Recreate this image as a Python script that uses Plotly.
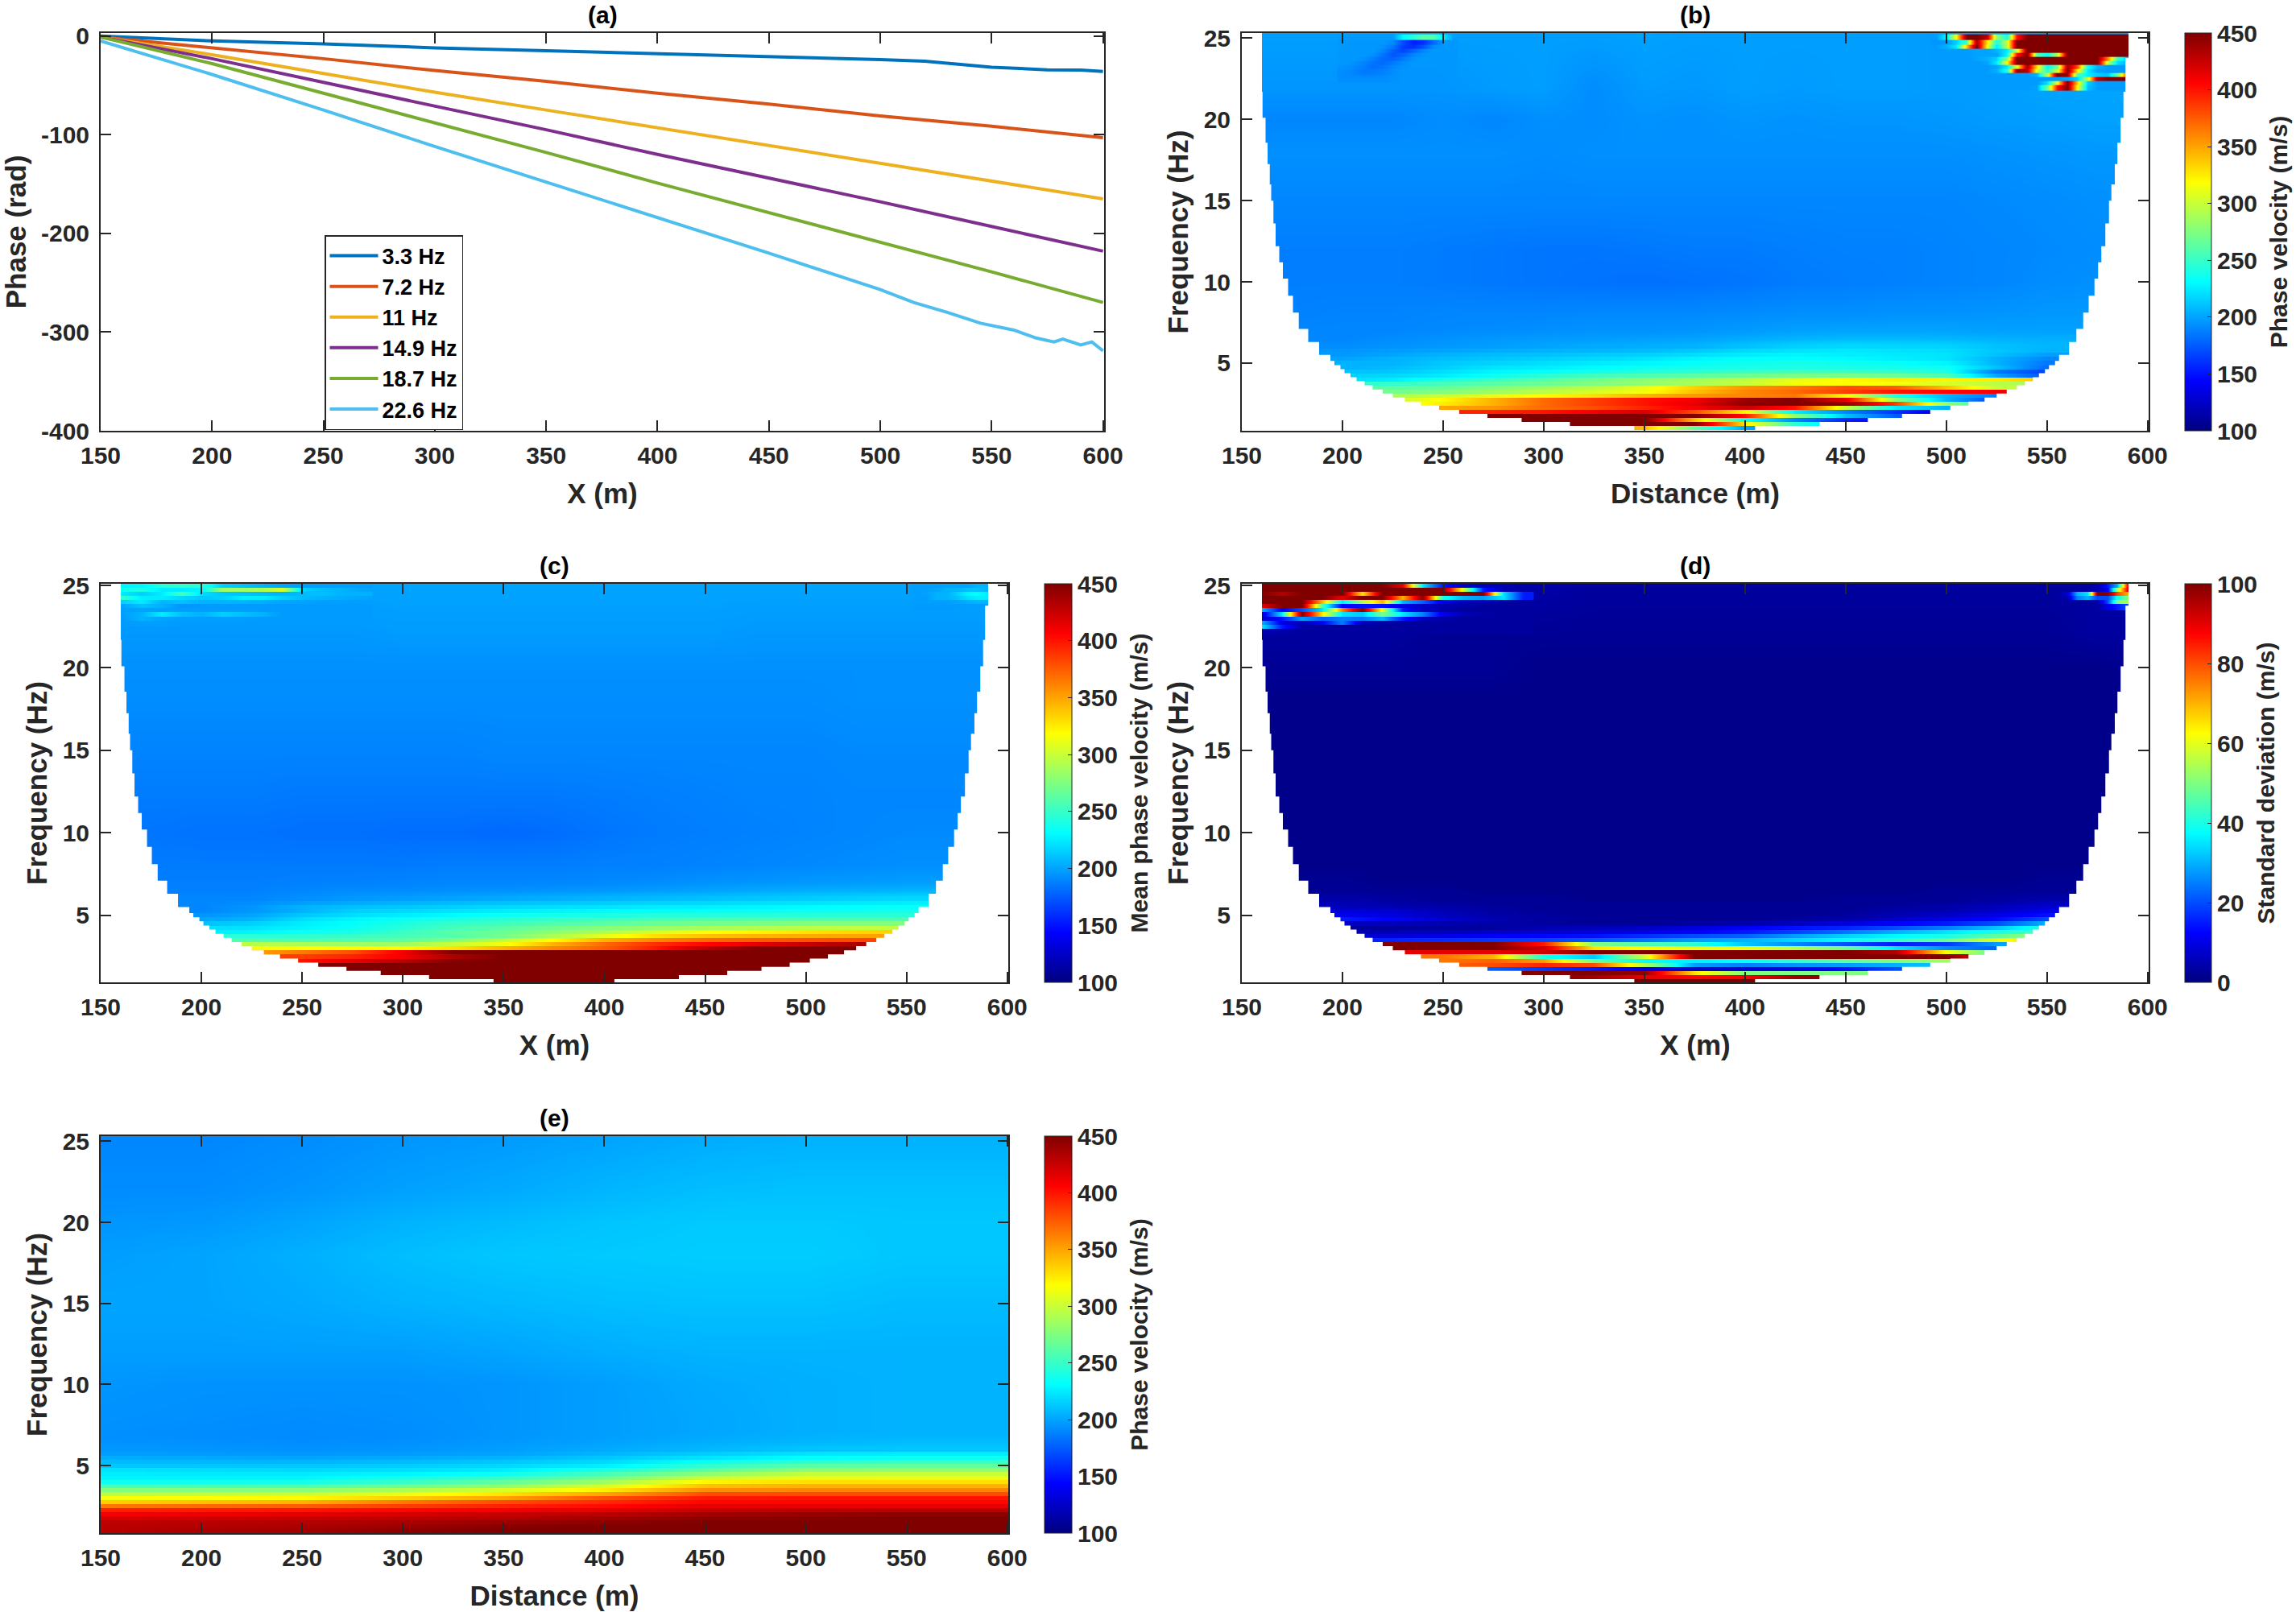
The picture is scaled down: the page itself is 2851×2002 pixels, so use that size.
import numpy as np
import plotly.graph_objects as go

W, H = 2851, 2002

# panel (a) phase curves
phase_labels = ["3.3 Hz", "7.2 Hz", "11 Hz", "14.9 Hz", "18.7 Hz", "22.6 Hz"]
phase_colors = ["#0072BD", "#D95319", "#EDB120", "#7E2F8E", "#77AC30", "#4DBEEE"]
phase_ticks = [-400, -300, -200, -100, 0]
phase_ticktext = ["-400", "-300", "-200", "-100", "0"]
phase_x = [
    [150, 200, 250, 300, 350, 400, 450, 500, 520, 540, 550, 575, 590, 600],
    [150, 200, 250, 300, 350, 400, 450, 500, 550, 600],
    [150, 200, 250, 300, 350, 400, 450, 500, 550, 600],
    [150, 200, 250, 300, 350, 400, 450, 500, 550, 600],
    [150, 200, 250, 300, 350, 400, 450, 500, 550, 600],
    [150, 200, 250, 300, 350, 400, 450, 500, 515, 530, 545, 560, 570, 578, 582, 590, 595, 600],
]
phase_y = [
    [0, -5, -8, -12, -15, -18, -20.5, -24, -25.6, -30, -31.6, -34.3, -34.6, -36],
    [-1, -12, -23, -35, -46, -58, -69, -81, -91.5, -103],
    [-1, -19, -38, -57, -75, -93, -111, -129, -147, -165],
    [-1, -23, -47, -71, -95, -120, -144, -168, -193, -218],
    [-1, -28, -58, -88, -118, -149, -179, -209, -239, -270],
    [-5, -39, -75, -112, -148, -184, -220, -257, -270, -280, -291, -298, -306, -310, -307, -313, -310, -319],
]

# shared grid of the velocity panels
dist = [150, 175, 200, 225, 250, 275, 300, 325, 350, 375, 400, 425, 450, 475, 500, 525, 550, 575, 600]
freq = [1.0, 1.25, 1.5, 1.75, 2.0, 2.25, 2.5, 2.75, 3.0, 3.25, 3.5, 3.75, 4.0, 4.25, 4.5, 4.75, 5.0, 5.25, 5.5, 5.75, 6.0,
        6.5, 7, 8, 10, 12, 15, 18, 20, 22, 25]

vel_b = [
    [370, 370, 370, 370, 370, 370, 370, 370, 340, 265, 200, 190, 190, 190, 190, 190, 190, 190, 190],
    [450, 450, 450, 450, 450, 450, 450, 450, 450, 450, 325, 245, 215, 215, 215, 215, 215, 215, 215],
    [450, 450, 450, 450, 450, 450, 450, 450, 450, 340, 235, 190, 155, 140, 140, 140, 140, 140, 140],
    [450, 450, 450, 450, 450, 450, 450, 450, 450, 450, 400, 280, 210, 175, 170, 170, 170, 170, 170],
    [395, 395, 395, 395, 395, 395, 400, 410, 420, 380, 320, 225, 190, 160, 130, 130, 130, 130, 130],
    [350, 350, 350, 350, 350, 355, 370, 380, 395, 410, 425, 400, 300, 225, 205, 200, 200, 200, 200],
    [310, 310, 310, 310, 325, 345, 370, 385, 400, 415, 445, 450, 445, 385, 280, 240, 240, 240, 240],
    [300, 300, 300, 300, 320, 345, 370, 385, 400, 410, 440, 450, 415, 280, 205, 165, 165, 165, 165],
    [290, 290, 290, 290, 300, 310, 320, 330, 345, 355, 360, 365, 320, 240, 205, 185, 185, 185, 185],
    [270, 270, 270, 270, 275, 285, 295, 305, 315, 340, 360, 370, 385, 400, 405, 410, 410, 410, 410],
    [260, 260, 260, 262, 265, 275, 285, 295, 312, 335, 355, 365, 380, 375, 340, 300, 290, 290, 290],
    [245, 245, 245, 248, 255, 262, 268, 275, 282, 290, 300, 315, 320, 315, 305, 295, 285, 285, 285],
    [220, 220, 220, 225, 240, 250, 260, 270, 278, 285, 295, 310, 320, 325, 322, 325, 340, 340, 340],
    [215, 215, 215, 218, 225, 235, 245, 253, 258, 263, 268, 272, 273, 268, 258, 200, 170, 160, 160],
    [210, 210, 210, 212, 220, 228, 232, 238, 243, 247, 252, 255, 253, 250, 240, 185, 165, 165, 165],
    [205, 205, 205, 208, 215, 222, 225, 230, 235, 238, 240, 240, 240, 238, 235, 210, 180, 180, 180],
    [200, 200, 205, 205, 212, 216, 220, 224, 228, 232, 235, 238, 235, 232, 228, 205, 185, 185, 185],
    [200, 200, 200, 205, 209, 212, 215, 218, 222, 228, 232, 232, 230, 226, 222, 205, 190, 190, 190],
    [196, 196, 196, 200, 205, 208, 210, 213, 215, 220, 225, 228, 226, 224, 222, 210, 198, 198, 198],
    [195, 195, 195, 198, 200, 203, 205, 206, 208, 212, 218, 222, 224, 222, 220, 212, 205, 205, 205],
    [192, 192, 192, 194, 196, 198, 200, 202, 203, 205, 210, 215, 218, 217, 216, 210, 206, 206, 206],
    [190, 190, 190, 192, 194, 196, 197, 198, 199, 200, 203, 206, 208, 208, 207, 205, 204, 204, 204],
    [190, 190, 190, 190, 191, 192, 193, 194, 194, 195, 197, 199, 200, 200, 200, 199, 199, 199, 199],
    [188, 188, 189, 189, 190, 190, 190, 191, 191, 191, 192, 193, 193, 194, 194, 195, 196, 196, 196],
    [187, 187, 187, 187, 186, 185, 184, 183, 182, 183, 184, 186, 187, 188, 189, 190, 192, 193, 193],
    [187, 187, 187, 187, 186, 185, 184, 184, 185, 186, 186, 187, 188, 188, 189, 190, 191, 192, 192],
    [190, 190, 190, 190, 190, 190, 190, 190, 190, 190, 190, 190, 190, 190, 190, 191, 192, 193, 193],
    [193, 193, 193, 193, 193, 193, 192, 193, 193, 193, 193, 193, 193, 193, 193, 194, 195, 196, 196],
    [190, 190, 190, 190, 192, 190, 193, 192, 194, 193, 195, 194, 195, 195, 196, 197, 198, 199, 199],
    [195, 195, 195, 195, 195, 197, 198, 192, 197, 196, 198, 197, 198, 198, 197, 198, 200, 200, 200],
    [198, 198, 198, 198, 198, 198, 198, 198, 199, 198, 198, 198, 198, 198, 197, 197, 197, 197, 197],
]

vel_c = [
    [450] * 19,
    [450] * 19,
    [450] * 19,
    [450] * 19,
    [450] * 19,
    [400, 400, 400, 400, 400, 415, 430, 448, 450, 450, 450, 450, 450, 450, 450, 450, 450, 450, 450],
    [385, 385, 385, 385, 385, 395, 410, 435, 450, 450, 450, 450, 450, 450, 450, 450, 450, 450, 450],
    [350, 350, 350, 350, 365, 380, 410, 450, 450, 450, 450, 450, 450, 450, 450, 450, 450, 450, 450],
    [315, 315, 315, 315, 318, 320, 320, 328, 345, 360, 375, 398, 430, 450, 450, 450, 450, 450, 450],
    [295, 295, 295, 295, 290, 285, 285, 300, 315, 345, 370, 390, 405, 415, 425, 435, 435, 435, 435],
    [258, 258, 258, 258, 258, 260, 263, 275, 295, 320, 345, 360, 370, 375, 378, 382, 385, 385, 385],
    [245, 245, 245, 245, 246, 250, 255, 260, 270, 290, 310, 330, 340, 345, 348, 350, 352, 352, 352],
    [225, 225, 225, 228, 235, 240, 250, 262, 268, 280, 290, 305, 318, 322, 328, 332, 335, 335, 335],
    [220, 220, 220, 222, 228, 235, 245, 255, 262, 270, 277, 283, 288, 292, 295, 298, 298, 298, 298],
    [210, 210, 210, 215, 225, 232, 240, 248, 252, 258, 262, 267, 270, 272, 275, 275, 275, 275, 275],
    [200, 200, 200, 205, 220, 228, 234, 240, 244, 248, 252, 255, 258, 258, 258, 258, 258, 258, 258],
    [195, 195, 195, 200, 212, 220, 225, 230, 235, 238, 240, 243, 243, 244, 244, 245, 245, 245, 245],
    [190, 190, 190, 195, 205, 215, 218, 222, 226, 228, 230, 232, 233, 234, 235, 236, 238, 238, 238],
    [190, 190, 190, 195, 205, 210, 212, 215, 218, 220, 222, 225, 226, 228, 230, 232, 233, 233, 233],
    [190, 190, 190, 192, 198, 202, 205, 208, 210, 212, 214, 216, 218, 220, 222, 224, 226, 226, 226],
    [190, 190, 190, 190, 193, 196, 198, 200, 202, 204, 206, 208, 210, 212, 214, 216, 218, 218, 218],
    [188, 188, 188, 188, 190, 192, 192, 193, 194, 195, 196, 198, 200, 202, 204, 205, 206, 206, 206],
    [187, 187, 187, 187, 188, 188, 189, 190, 190, 190, 191, 192, 194, 195, 196, 197, 198, 198, 198],
    [186, 186, 186, 186, 186, 186, 186, 187, 187, 187, 188, 188, 189, 190, 191, 192, 193, 193, 193],
    [184, 184, 183, 183, 182, 182, 181, 181, 180, 181, 184, 186, 187, 188, 189, 190, 191, 191, 191],
    [186, 186, 186, 186, 185, 185, 185, 185, 185, 185, 186, 187, 188, 189, 189, 190, 190, 190, 190],
    [189, 189, 189, 189, 189, 189, 189, 189, 190, 190, 190, 190, 190, 190, 190, 191, 191, 191, 191],
    [192, 192, 192, 192, 192, 192, 192, 192, 192, 192, 192, 192, 192, 192, 192, 193, 193, 193, 193],
    [193, 193, 193, 193, 193, 193, 193, 193, 193, 193, 193, 193, 193, 193, 193, 193, 193, 193, 193],
    [196, 196, 196, 196, 196, 196, 197, 197, 197, 197, 197, 197, 197, 196, 196, 196, 196, 196, 196],
    [200, 200, 200, 200, 200, 200, 200, 200, 200, 200, 200, 200, 200, 200, 200, 200, 200, 200, 200],
]

std_d = [
    [100] * 19,
    [100, 100, 100, 100, 100, 100, 100, 97, 90, 87, 88, 97, 100, 100, 100, 100, 100, 100, 100],
    [100, 100, 100, 100, 100, 100, 100, 100, 98, 65, 50, 50, 50, 50, 52, 52, 52, 52, 52],
    [22, 22, 22, 22, 22, 22, 18, 15, 10, 8, 8, 10, 14, 20, 22, 22, 22, 22, 22],
    [78, 78, 78, 78, 78, 80, 84, 80, 55, 28, 25, 27, 28, 30, 32, 36, 36, 36, 36],
    [76, 76, 76, 76, 76, 78, 72, 48, 38, 36, 38, 42, 47, 50, 53, 56, 56, 56, 56],
    [76, 76, 76, 76, 76, 70, 40, 32, 58, 100, 100, 100, 100, 100, 100, 85, 75, 75, 75],
    [90, 90, 90, 90, 90, 90, 92, 100, 100, 100, 100, 100, 100, 95, 62, 45, 45, 45, 45],
    [100, 100, 100, 100, 100, 100, 92, 65, 62, 60, 60, 55, 48, 35, 26, 22, 22, 22, 22],
    [100, 100, 100, 100, 100, 100, 85, 50, 45, 42, 32, 26, 20, 15, 18, 28, 32, 32, 32],
    [16, 16, 16, 16, 17, 18, 19, 21, 24, 28, 30, 34, 38, 42, 48, 60, 70, 70, 70],
    [8, 8, 8, 9, 10, 12, 13, 14, 17, 20, 22, 28, 33, 37, 40, 47, 54, 54, 54],
    [5, 5, 5, 5, 6, 7, 8, 9, 10, 12, 15, 19, 24, 30, 35, 40, 45, 45, 45],
    [3, 3, 3, 3, 3, 3, 5, 6, 7, 9, 12, 14, 16, 20, 25, 32, 42, 42, 42],
    [7, 7, 7, 6, 5, 4, 3, 2, 2, 3, 4, 6, 9, 12, 15, 20, 30, 30, 30],
    [15, 15, 15, 12, 8, 5, 3, 2, 2, 2, 2, 3, 4, 7, 10, 13, 20, 20, 20],
    [11, 11, 11, 9, 6, 4, 3, 2, 2, 2, 2, 2, 3, 5, 7, 10, 14, 14, 14],
    [9, 9, 9, 8, 5, 3, 2, 2, 2, 2, 2, 2, 2, 4, 5, 7, 11, 11, 11],
    [7, 7, 6, 5, 4, 3, 2, 2, 2, 2, 2, 2, 2, 3, 4, 6, 8, 8, 8],
    [5, 5, 5, 4, 3, 2, 2, 2, 2, 2, 2, 2, 2, 2, 3, 4, 6, 6, 6],
    [4, 4, 4, 3, 2, 2, 2, 1, 1, 1, 1, 1, 2, 2, 2, 3, 4, 4, 4],
    [2, 2, 2, 2, 2, 1, 1, 1, 1, 1, 1, 1, 1, 1, 2, 2, 2, 2, 2],
    [2, 2, 2, 1, 1, 1, 1, 1, 1, 1, 1, 1, 1, 1, 1, 1, 2, 2, 2],
    [1, 1, 1, 1, 1, 1, 1, 1, 1, 1, 1, 1, 1, 1, 1, 1, 1, 1, 1],
    [1, 1, 1, 1, 1, 1, 1, 1, 1, 1, 1, 1, 1, 1, 1, 1, 1, 1, 1],
    [1, 1, 1, 1, 1, 1, 1, 1, 1, 1, 1, 1, 1, 1, 1, 1, 1, 1, 1],
    [1, 1, 1, 1, 1, 1, 1, 1, 1, 1, 1, 1, 1, 1, 1, 1, 1, 1, 1],
    [1, 1, 1, 1, 1, 1, 1, 1, 1, 1, 1, 1, 1, 1, 1, 1, 1, 1, 1],
    [2, 2, 2, 2, 2, 2, 1, 1, 1, 1, 1, 1, 1, 1, 1, 1, 1, 1, 2],
    [3, 3, 3, 3, 2, 2, 2, 2, 2, 2, 2, 2, 2, 2, 2, 2, 2, 3, 3],
    [4, 4, 4, 4, 4, 4, 4, 3, 3, 3, 3, 3, 3, 3, 3, 3, 3, 4, 4],
]

# panel (e) has its own coarser columns
dist_e = [150, 200, 250, 300, 350, 400, 450, 500, 550, 600]
vel_e = [
    [430, 435, 438, 445, 450, 450, 450, 450, 450, 450],
    [430, 432, 435, 440, 447, 450, 450, 450, 450, 450],
    [428, 430, 432, 435, 440, 445, 450, 450, 450, 450],
    [420, 422, 425, 428, 432, 438, 445, 447, 450, 450],
    [410, 412, 415, 420, 425, 430, 438, 442, 445, 445],
    [395, 398, 400, 405, 410, 415, 425, 430, 430, 430],
    [365, 370, 375, 385, 395, 403, 415, 415, 415, 415],
    [335, 340, 345, 365, 380, 392, 405, 405, 405, 405],
    [315, 318, 320, 335, 350, 378, 398, 400, 400, 400],
    [295, 298, 300, 312, 328, 350, 380, 380, 380, 380],
    [275, 276, 278, 290, 305, 325, 358, 360, 360, 360],
    [255, 256, 258, 268, 280, 305, 340, 345, 345, 345],
    [235, 236, 238, 250, 265, 285, 322, 330, 330, 330],
    [228, 228, 228, 238, 250, 268, 300, 312, 312, 312],
    [225, 224, 224, 228, 235, 255, 280, 298, 300, 300],
    [222, 220, 218, 220, 225, 240, 262, 278, 280, 280],
    [212, 212, 212, 214, 218, 226, 248, 262, 265, 265],
    [208, 207, 206, 208, 212, 218, 234, 246, 250, 250],
    [203, 202, 200, 202, 205, 212, 222, 232, 235, 235],
    [198, 197, 196, 197, 200, 206, 214, 222, 225, 225],
    [196, 195, 194, 195, 198, 202, 207, 211, 212, 212],
    [194, 193, 192, 193, 196, 199, 203, 206, 208, 208],
    [193, 192, 191, 192, 195, 198, 201, 204, 205, 205],
    [194, 193, 192, 193, 195, 198, 201, 204, 205, 205],
    [195, 194, 194, 194, 195, 198, 202, 204, 205, 205],
    [198, 198, 198, 198, 200, 203, 205, 205, 205, 205],
    [200, 200, 202, 205, 207, 209, 210, 210, 208, 208],
    [198, 200, 204, 209, 212, 213, 214, 214, 212, 212],
    [195, 196, 200, 205, 208, 211, 213, 213, 212, 212],
    [192, 192, 195, 199, 202, 206, 209, 210, 210, 210],
    [190, 190, 192, 195, 197, 200, 203, 205, 205, 205],
]

# noisy corners, drawn over the base grids
patch_freq = [22.0, 22.25, 22.5, 22.75, 23.0, 23.25, 23.5, 23.75, 24.0, 24.25, 24.5, 24.75, 25.0]
patch_b_x = [495, 500, 505, 510, 515, 520, 525, 530, 535, 540, 545, 550, 555, 560, 565, 570, 575, 580, 585, 590]
patch_b = [
    [197, 197, 197, 197, 197, 197, 197, 197, 197, 197, 200, 270, 400, 450, 320, 210, 197, 197, 197, 197],
    [197, 197, 197, 197, 197, 197, 197, 197, 197, 197, 197, 220, 310, 450, 340, 215, 197, 197, 197, 197],
    [197, 197, 197, 197, 197, 197, 197, 197, 197, 197, 197, 197, 197, 200, 215, 300, 430, 450, 450, 450],
    [197, 197, 197, 197, 197, 197, 197, 197, 197, 197, 205, 300, 450, 440, 260, 225, 215, 210, 270, 390],
    [197, 197, 197, 197, 197, 197, 205, 240, 440, 430, 310, 245, 300, 450, 330, 225, 200, 197, 197, 197],
    [197, 197, 197, 197, 197, 197, 200, 225, 310, 440, 330, 230, 270, 440, 380, 235, 205, 197, 197, 197],
    [197, 197, 197, 197, 197, 200, 225, 320, 450, 450, 450, 450, 450, 450, 450, 450, 450, 300, 220, 205],
    [197, 197, 197, 197, 200, 205, 215, 280, 450, 450, 450, 450, 450, 450, 450, 450, 450, 360, 250, 210],
    [197, 197, 197, 197, 200, 200, 200, 230, 400, 450, 260, 235, 290, 450, 450, 450, 450, 450, 450, 450],
    [197, 197, 197, 197, 200, 200, 205, 225, 300, 450, 450, 450, 450, 450, 450, 450, 450, 450, 450, 450],
    [197, 205, 225, 340, 450, 320, 225, 300, 450, 450, 450, 450, 450, 450, 450, 450, 450, 450, 450, 450],
    [195, 197, 215, 260, 440, 330, 240, 300, 450, 450, 450, 450, 450, 450, 450, 450, 450, 450, 450, 450],
    [197, 230, 320, 450, 450, 430, 280, 240, 400, 450, 450, 450, 450, 450, 450, 450, 450, 450, 450, 450],
]
# dark streak at the top of panel (b)
patch_b2_freq = [22.5, 23.0, 23.25, 23.5, 23.75, 24.0, 24.25, 24.5, 24.75, 25.0]
patch_b2_x = [200, 205, 210, 215, 220, 225, 230, 235, 240, 245, 250, 255]
patch_b2 = [
    [192, 192, 192, 192, 192, 194, 195, 195, 195, 195, 195, 196],
    [192, 190, 186, 186, 188, 192, 195, 195, 195, 195, 196, 196],
    [194, 192, 188, 182, 184, 190, 194, 196, 196, 196, 196, 196],
    [196, 194, 190, 184, 180, 186, 192, 196, 196, 196, 196, 196],
    [196, 196, 194, 188, 180, 178, 186, 194, 196, 196, 196, 196],
    [196, 196, 196, 194, 184, 174, 178, 190, 195, 196, 196, 196],
    [196, 196, 196, 196, 190, 176, 168, 178, 190, 196, 196, 196],
    [196, 196, 196, 196, 194, 185, 165, 160, 172, 192, 196, 196],
    [196, 196, 196, 196, 196, 192, 170, 155, 160, 180, 196, 196],
    [197, 197, 197, 197, 197, 197, 230, 245, 260, 260, 225, 198],
]

patch_c_freq = [22.75, 23.0, 23.25, 23.5, 23.75, 24.0, 24.25, 24.5, 24.75, 25.0]
patch_c_x = [160, 170, 180, 190, 200, 210, 220, 230, 240, 250, 260, 270, 280]
patch_c = [
    [197, 198, 198, 197, 197, 197, 197, 197, 197, 197, 197, 197, 197],
    [197, 205, 200, 198, 198, 198, 198, 197, 197, 197, 197, 197, 197],
    [198, 205, 225, 210, 205, 215, 210, 205, 197, 197, 197, 197, 197],
    [198, 200, 198, 198, 198, 198, 198, 197, 197, 197, 197, 197, 197],
    [200, 210, 205, 195, 197, 197, 197, 197, 197, 197, 197, 197, 197],
    [215, 225, 205, 210, 205, 205, 205, 203, 200, 200, 198, 198, 198],
    [250, 225, 225, 218, 212, 215, 225, 225, 215, 208, 205, 203, 200],
    [225, 215, 225, 255, 220, 212, 210, 208, 205, 208, 210, 205, 205],
    [235, 240, 225, 225, 228, 285, 285, 290, 305, 215, 208, 205, 200],
    [228, 228, 245, 250, 245, 215, 210, 205, 200, 198, 198, 198, 198],
]
patch_c2_freq = [23.75, 24.0, 24.25, 24.5, 24.75, 25.0]
patch_c2_x = [555, 560, 565, 570, 575, 580, 585, 590]
patch_c2 = [
    [197, 197, 197, 197, 197, 198, 198, 198],
    [198, 198, 198, 198, 200, 203, 205, 205],
    [198, 198, 205, 205, 210, 220, 225, 225],
    [198, 200, 205, 205, 215, 228, 232, 225],
    [198, 198, 200, 205, 205, 210, 210, 205],
    [198, 198, 198, 200, 200, 200, 205, 205],
]

patch_d_freq = [22.25, 22.5, 22.75, 23.0, 23.25, 23.5, 23.75, 24.0, 24.25, 24.5, 24.75, 25.0]
patch_d_x = [160, 170, 180, 190, 200, 210, 220, 230, 240, 250, 260, 270, 280, 290]
patch_d = [
    [5, 4, 3, 3, 3, 3, 3, 3, 3, 3, 3, 3, 3, 3],
    [35, 15, 4, 3, 3, 3, 3, 3, 3, 3, 3, 3, 3, 3],
    [30, 10, 5, 12, 25, 6, 4, 3, 3, 3, 3, 3, 3, 3],
    [8, 14, 28, 22, 25, 24, 30, 15, 6, 4, 3, 3, 3, 3],
    [8, 35, 100, 65, 35, 32, 50, 35, 25, 10, 5, 4, 3, 3],
    [30, 12, 20, 35, 75, 100, 60, 15, 6, 4, 3, 3, 3, 3],
    [90, 100, 100, 45, 12, 14, 14, 10, 7, 5, 4, 3, 3, 3],
    [100, 100, 100, 70, 35, 55, 70, 30, 22, 10, 6, 5, 4, 3],
    [100, 100, 100, 100, 90, 100, 100, 70, 100, 40, 30, 28, 35, 15],
    [100, 95, 100, 100, 100, 65, 100, 100, 100, 100, 100, 100, 35, 15],
    [100, 100, 100, 100, 100, 100, 100, 100, 100, 100, 60, 15, 5, 4],
    [100, 100, 100, 100, 100, 100, 100, 90, 35, 15, 8, 6, 5, 4],
]
patch_d2_freq = [23.75, 24.0, 24.25, 24.5, 24.75, 25.0]
patch_d2_x = [555, 560, 565, 570, 575, 580, 585, 590]
patch_d2 = [
    [3, 3, 3, 3, 3, 10, 15, 20],
    [3, 3, 3, 3, 4, 20, 50, 55],
    [3, 5, 25, 30, 20, 20, 40, 50],
    [3, 8, 30, 35, 100, 100, 80, 70],
    [3, 3, 3, 4, 5, 12, 55, 90],
    [3, 3, 3, 3, 5, 15, 30, 90],
]

# bottom edge of each row of the wavelet cone, with its two side limits
cone_freq = [0.875, 1.125, 1.375, 1.625, 1.875, 2.125, 2.375, 2.625, 2.875, 3.125, 3.375, 3.625, 3.875, 4.125,
             4.375, 4.625, 4.875, 5.125, 5.5, 6.3, 7.1, 8.1, 9.15, 10.2, 11.2, 12.2, 13.6, 15, 16, 17.25, 18.56,
             20.1, 21.7, 23.77, 26]
cone_left = [345, 313, 289, 272, 258, 248, 239, 231, 225, 220, 215, 211, 207, 204, 201, 199, 196, 194, 188.4, 183,
             178.3, 175.4, 173, 170.4, 168.6, 166.8, 165.7, 164.6, 163.9, 162.8, 161.8, 160.3, 160, 160, 160]
cone_right = [405, 437, 461, 478, 492, 502, 511, 519, 525, 530, 535, 539, 543, 546, 549, 551, 554, 556, 561, 564.6,
              568, 570.7, 573.6, 575.4, 577, 579, 580.8, 582, 583.7, 585, 586.6, 588, 589, 590.5, 590.5]

# axis boxes: left, right, top, bottom in pixels
boxes = {
    "a": (125, 1371, 41, 535),
    "b": (1542, 2668, 41, 535),
    "c": (125, 1252, 725, 1220),
    "d": (1542, 2668, 725, 1220),
    "e": (125, 1252, 1411, 1904),
}
bars = {"b": (2713, 2746), "c": (1297, 1331), "d": (2713, 2746), "e": (1297, 1331)}

FONT = "Liberation Sans"
INK = "#262626"
JET = [[0, "#000080"], [0.125, "#0000ff"], [0.375, "#00ffff"], [0.625, "#ffff00"], [0.875, "#ff0000"], [1, "#800000"]]


def stepped(rows, freqs):
    # low rows stay as flat bands, the smooth upper part blends between rows
    ys, zs = [], []
    for f, r in zip(freqs, rows):
        if f <= 6:
            ys += [f - 0.12, f + 0.12]
            zs += [r, r]
        else:
            ys.append(f)
            zs.append(r)
    return ys, zs


fig = go.Figure()
layout = {}
axis_ids = {"a": "", "b": "2", "c": "3", "d": "4", "e": "5"}
for key, (l, r, t, b) in boxes.items():
    n = axis_ids[key]
    xtitle = "Distance (m)" if key in "be" else "X (m)"
    ytitle = "Phase (rad)" if key == "a" else "Frequency (Hz)"
    common = dict(showgrid=False, zeroline=False, showline=True, linecolor=INK, linewidth=2, mirror="ticks",
                  ticks="inside", ticklen=13, tickwidth=1.5, tickcolor=INK, automargin=False,
                  tickfont=dict(family=FONT, size=30, color=INK, weight=700))
    layout["xaxis" + n] = dict(common, domain=[l / W, r / W], anchor="y" + n, range=[150, 600.5], dtick=50,
                               tick0=150, ticklabelstandoff=3,
                               title=dict(text=xtitle, standoff=19, font=dict(family=FONT, size=35, color=INK, weight=700)))
    y_range = [-400, 3] if key == "a" else ([0.83, 25.32] if key in "be" else [0.93, 25.1])
    y_ticks = dict(tickmode="array", tickvals=phase_ticks, ticktext=phase_ticktext) if key == "a" else dict(dtick=5, tick0=0)
    layout["yaxis" + n] = dict(common, domain=[1 - b / H, 1 - t / H], anchor="x" + n, range=y_range,
                               ticklabelstandoff=6, **y_ticks,
                               title=dict(text=ytitle, standoff=8, font=dict(family=FONT, size=35, color=INK, weight=700)))


def add_map(key, x, rows, freqs, zmax, zmin, title, patches=(), cone=True):
    n = axis_ids[key]
    ax = dict(xaxis="x" + n, yaxis="y" + n)
    l, r, t, b = boxes[key]
    x0, x1 = bars[key]
    ys, zs = stepped(rows, freqs)
    fig.add_trace(go.Heatmap(
        x=x, y=ys, z=zs, zmin=zmin, zmax=zmax, colorscale=JET, zsmooth="best", hoverinfo="skip",
        colorbar=dict(x=x0 / W, xanchor="left", xpad=0, y=1 - b / H, yanchor="bottom", ypad=0, len=(b - t) / H,
                      thickness=x1 - x0, outlinewidth=1, outlinecolor=INK, ticks="inside", ticklen=5, tickcolor=INK,
                      dtick=20 if zmax == 100 else 50, tick0=zmin, ticksuffix="\u00a0",
                      tickfont=dict(family=FONT, size=30, color=INK, weight=700),
                      title=dict(text=title, side="right", font=dict(family=FONT, size=30, color=INK, weight=700))),
        **ax))
    for px, pf, pz in patches:
        py = [v for f in pf for v in (f - 0.12, f + 0.12)]
        fig.add_trace(go.Heatmap(x=px, y=py, z=np.repeat(pz, 2, axis=0), zmin=zmin, zmax=zmax, colorscale=JET,
                                 zsmooth="best", showscale=False, hoverinfo="skip", **ax))
    if cone:
        # white outside of the cone
        for side, edge in (("left", cone_left), ("right", cone_right)):
            end = 149 if side == "left" else 602
            fig.add_trace(go.Scatter(x=[375] + edge + [end, end], y=[0.5] + cone_freq + [26, 0.5], mode="lines",
                                     line=dict(width=0, shape="vh"), fill="toself", fillcolor="white",
                                     showlegend=False, hoverinfo="skip", **ax))


for lab, col, xs, ys in zip(phase_labels, phase_colors, phase_x, phase_y):
    fig.add_trace(go.Scatter(x=xs, y=ys, mode="lines", name=lab, line=dict(color=col, width=4)))

add_map("b", dist, vel_b, freq, 450, 100, "Phase velocity (m/s)",
        [(patch_b_x, patch_freq, patch_b), (patch_b2_x, patch_b2_freq, patch_b2)])
add_map("c", dist, vel_c, freq, 450, 100, "Mean phase velocity (m/s)",
        [(patch_c_x, patch_c_freq, patch_c), (patch_c2_x, patch_c2_freq, patch_c2)])
add_map("d", dist, std_d, freq, 100, 0, "Standard deviation (m/s)",
        [(patch_d_x, patch_d_freq, patch_d), (patch_d2_x, patch_d2_freq, patch_d2)])
add_map("e", dist_e, vel_e, freq, 450, 100, "Phase velocity (m/s)", cone=False)

annotations = []
for key, (l, r, t, b) in boxes.items():
    annotations.append(dict(text="(%s)" % key, xref="paper", yref="paper", x=(l + r) / 2 / W, y=1 - (t - 23) / H,
                            showarrow=False, xanchor="center", yanchor="middle",
                            font=dict(family=FONT, size=30, color="black", weight=700)))

fig.update_layout(
    width=W, height=H, autosize=False, margin=dict(l=0, r=0, t=0, b=0), paper_bgcolor="white", plot_bgcolor="white",
    showlegend=True, annotations=annotations,
    legend=dict(x=403 / W, y=1 - 292 / H, xanchor="left", yanchor="top", bgcolor="white", bordercolor=INK, borderwidth=1.5,
                font=dict(family=FONT, size=27, color="black", weight=700), itemwidth=60, tracegroupgap=0,
                entrywidth=138, entrywidthmode="pixels"),
    **layout)

# the page's default body margin would shift the whole figure
fig.write_html("out.html", config={"displayModeBar": False}, post_script="document.body.style.margin = '0';")
